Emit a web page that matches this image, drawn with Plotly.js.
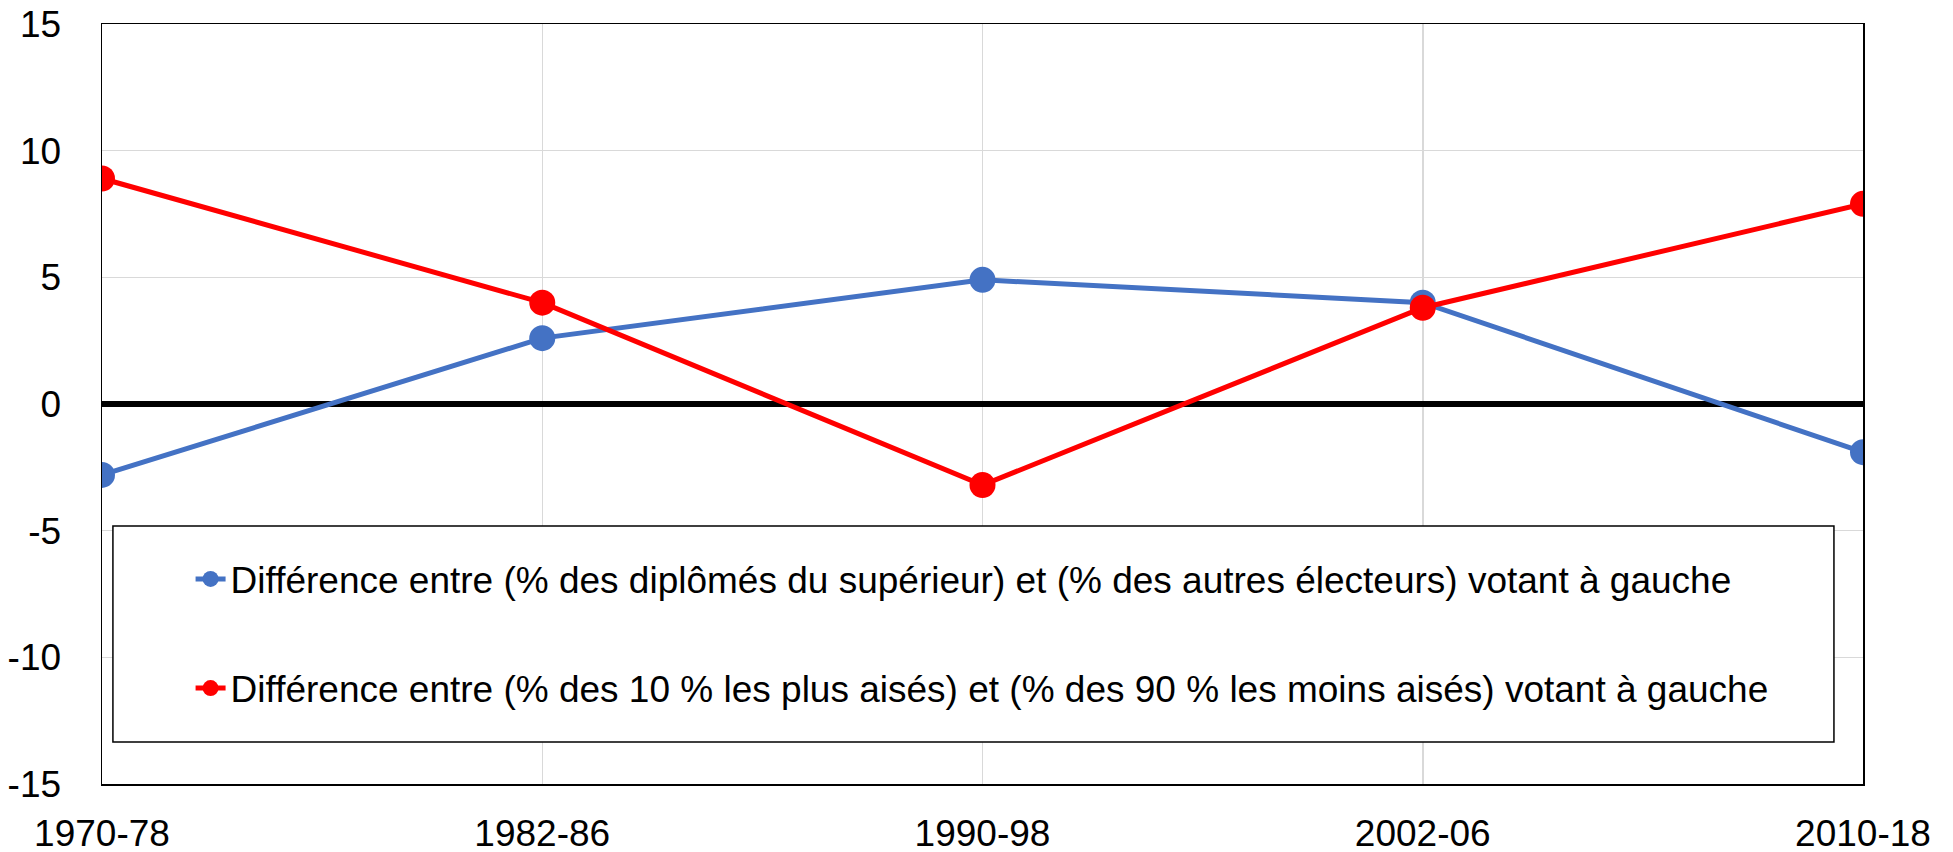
<!DOCTYPE html>
<html>
<head>
<meta charset="utf-8">
<script src="https://cdn.plot.ly/plotly-3.0.1.min.js"></script>
<style>html,body{margin:0;padding:0;background:#fff;}#chart{width:1953px;height:852px;}</style>
</head>
<body>
<div id="chart"></div>
<script>
const periods = ["1970-78", "1982-86", "1990-98", "2002-06", "2010-18"];
const diplomesValues = [-2.8, 2.6, 4.9, 4.0, -1.9];
const richesValues = [8.9, 4.0, -3.2, 3.8, 7.9];
const seriesNames = [
  "Différence entre (% des diplômés du supérieur) et (% des autres électeurs) votant à gauche",
  "Différence entre (% des 10 % les plus aisés) et (% des 90 % les moins aisés) votant à gauche"
];
const yTicks = [-15, -10, -5, 0, 5, 10, 15];

const FONT = "Arial, 'Liberation Sans', sans-serif";

const traces = [
  {
    x: periods, y: diplomesValues, name: seriesNames[0], type: "scatter", mode: "lines+markers",
    line: {color: "#4472C4", width: 5}, marker: {color: "#4472C4", size: 26},
    legendgroup: "a"
  },
  {
    x: periods, y: richesValues, name: seriesNames[1], type: "scatter", mode: "lines+markers",
    line: {color: "#FF0000", width: 5}, marker: {color: "#FF0000", size: 26},
    legendgroup: "b"
  }
];

const layout = {
  width: 1953, height: 852,
  margin: {l: 102, r: 90, t: 24, b: 68, pad: 0},
  paper_bgcolor: "#ffffff", plot_bgcolor: "#ffffff",
  font: {family: FONT, color: "#000000", size: 37},
  showlegend: true,
  legend: {
    x: 0.0503, y: 0.31, xanchor: "left", yanchor: "top",
    bgcolor: "rgba(0,0,0,0)", borderwidth: 0,
    font: {family: FONT, size: 37, color: "#000"},
    traceorder: "grouped", tracegroupgap: 58
  },
  xaxis: {
    type: "category", range: [0, 4],
    showgrid: true, gridcolor: "#d9d9d9", gridwidth: 1.5,
    showline: true, linecolor: "#000", linewidth: 1.5, mirror: true,
    ticks: "", ticklabelstandoff: 16,
    tickfont: {family: FONT, size: 37, color: "#000"},
    zeroline: false
  },
  yaxis: {
    range: [-15, 15], tickmode: "array", tickvals: yTicks, ticktext: yTicks.map(String),
    showgrid: true, gridcolor: "#d9d9d9", gridwidth: 1.5,
    showline: true, linecolor: "#000", linewidth: 1.5, mirror: true,
    zeroline: true, zerolinecolor: "#000", zerolinewidth: 5.5,
    ticks: "", ticklabelstandoff: 32,
    tickfont: {family: FONT, size: 37, color: "#000"}
  },
  shapes: [
    {type: "rect", xref: "paper", yref: "paper", x0: 0.0062, x1: 0.9835, y0: 0.0553, y1: 0.3395,
     line: {color: "#000", width: 1.5}, fillcolor: "#ffffff", layer: "above"}
  ]
};

Plotly.newPlot("chart", traces, layout, {staticPlot: true, displayModeBar: false});
</script>
</body>
</html>
